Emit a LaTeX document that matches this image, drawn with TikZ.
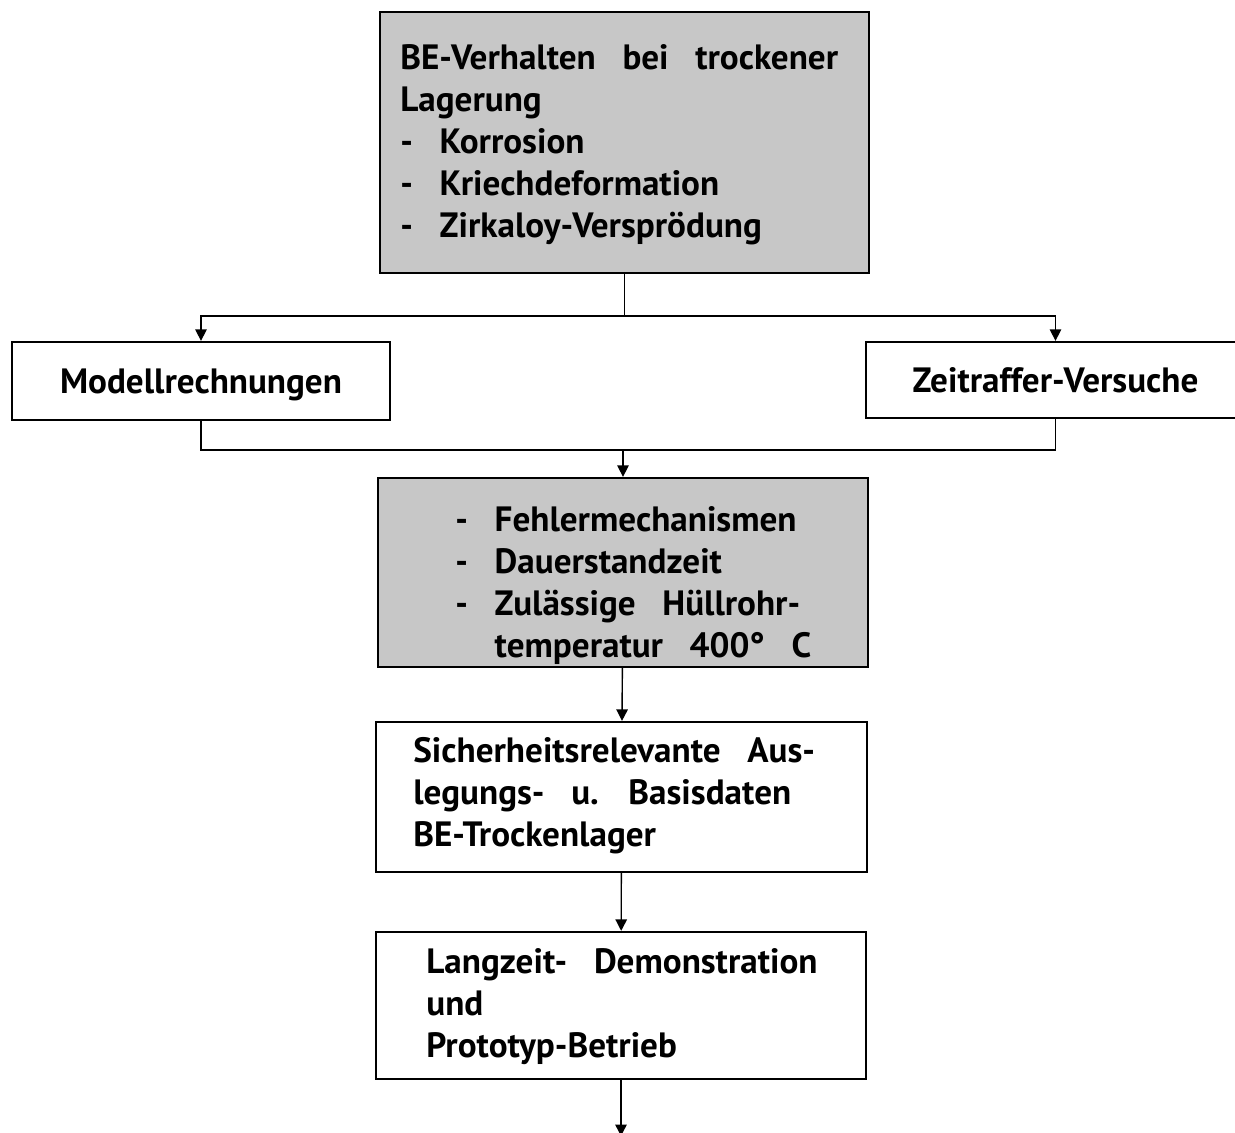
\documentclass[tikz,border=0pt]{standalone}
\usepackage{fontspec}
\setmainfont{PT Sans}[WordSpace=3.0]
\usetikzlibrary{arrows.meta}

\tikzset{
	box/.style={draw, line width=1.3pt, inner sep=0pt},
	shaded/.style={box, fill=black!22},
	txt/.style={inner sep=0pt, align=left, anchor=west, font=\bfseries\fontsize{20}{23.9}\selectfont},
	link/.style={line width=0.8pt},
	arr/.style={link, -{Triangle[width=6.5pt, length=6.5pt]}}
}

\begin{document}
\begin{tikzpicture}
			\useasboundingbox (0, 0) rectangle (24.7, -22.66);

			\draw (12.49, -2.85) 	node[shaded, minimum width=9.78cm, minimum height=5.22cm] 	(verhalten) 	{};
			\draw (4.02, -7.62) 	node[box, minimum width=7.56cm, minimum height=1.56cm, text depth=0pt, font=\bfseries\fontsize{20}{23.9}\selectfont] 	(modell) 	{Modellrechnungen};
			\draw (21.11, -7.6) 	node[box, minimum width=7.58cm, minimum height=1.52cm, text depth=0pt, font=\bfseries\fontsize{20}{23.9}\selectfont] 	(zeitraffer) 	{Zeitraffer-Versuche};
			\draw (12.46, -11.45) 	node[shaded, minimum width=9.8cm, minimum height=3.78cm] 	(fehler) 	{};
			\draw (12.43, -15.94) 	node[box, minimum width=9.82cm, minimum height=3.0cm] 	(daten) 	{};
			\draw (12.42, -20.11) 	node[box, minimum width=9.8cm, minimum height=2.94cm] 	(demo) 	{};

			\draw (8.0, -2.9) 	node[txt] 	(verhalten_t) 	{BE-Verhalten bei trockener\\Lagerung\\- Korrosion\\- Kriechdeformation\\- Zirkaloy-Versprödung};
			\draw (9.1, -11.72) 	node[txt] 	(fehler_t) 	{- Fehlermechanismen\\- Dauerstandzeit\\- Zulässige Hüllrohr-\\\phantom{- }temperatur 400° C};
			\draw (8.26, -15.92) 	node[txt] 	(daten_t) 	{Sicherheitsrelevante Aus-\\legungs- u. Basisdaten\\BE-Trockenlager};
			\draw (8.52, -20.14) 	node[txt] 	(demo_t) 	{Langzeit- Demonstration\\und\\Prototyp-Betrieb};

			\coordinate (split) at (12.49, -6.32);
			\coordinate (merge) at (12.46, -9.0);
			\coordinate (out) at (12.42, -22.72);

			\draw[link] (verhalten) -- (split);
			\draw[arr] (split) -| (modell);
			\draw[arr] (split) -| (zeitraffer);
			\draw[link] (modell) |- (merge) -| (zeitraffer);
			\draw[arr] (merge) -- (fehler);
			\draw[arr] (fehler) -- (daten);
			\draw[arr] (daten) -- (demo);
			\draw[arr] (demo) -- (out);
		\end{tikzpicture}
\end{document}
